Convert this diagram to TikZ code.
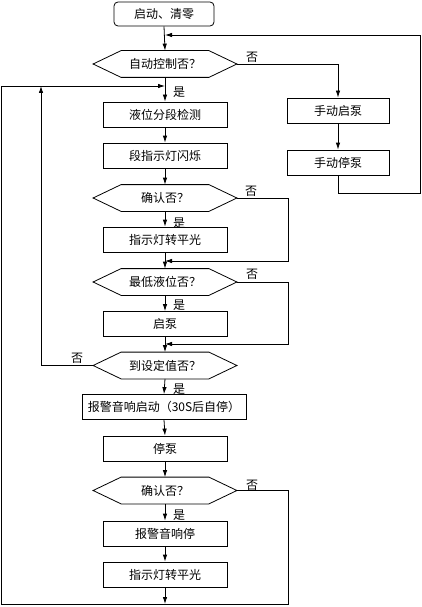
\documentclass[tikz,border=0pt]{standalone}
\usepackage{fontspec}
\setmainfont{Noto Sans CJK SC}
\usetikzlibrary{arrows.meta,calc}
\begin{document}
\begin{tikzpicture}[x=1pt,y=-1pt,line width=0.8pt,
  font=\fontsize{12}{14}\selectfont,
  arr/.style={-{Latex[length=7pt,width=4.5pt]}},
  box/.style={draw,rectangle,minimum width=124pt,minimum height=25pt,inner sep=0pt},
  rbox/.style={draw,rectangle,rounded corners=4pt,minimum width=100pt,minimum height=24pt,inner sep=0pt},
  hexn/.style={rectangle,minimum width=143pt,minimum height=26pt,inner sep=0pt},
  lbl/.style={inner sep=0pt}]
\useasboundingbox (0,0) rectangle (422,607);
% nodes
\node[rbox] (s) at (164,14) {启动、清零};
\node[hexn] (d1) at (165,64) {自动控制否？};
\node[box] (b1) at (165,114.5) {液位分段检测};
\node[box] (b2) at (165,155.5) {段指示灯闪烁};
\node[hexn] (d2) at (165,198) {确认否？};
\node[box] (b3) at (165,239.5) {指示灯转平光};
\node[hexn] (d3) at (165,282) {最低液位否？};
\node[box] (b4) at (165,324) {启泵};
\node[hexn] (d4) at (165,365.5) {到设定值否？};
\node[box,minimum width=164pt] (b5) at (164,407) {报警音响启动（30S后自停）};
\node[box] (b6) at (165,448.5) {停泵};
\node[hexn] (d5) at (165,490.5) {确认否？};
\node[box] (b7) at (165,533.5) {报警音响停};
\node[box] (b8) at (165,574.5) {指示灯转平光};
\node[box,minimum width=102pt] (m1) at (338,110.5) {手动启泵};
\node[box,minimum width=102pt] (m2) at (338,162.5) {手动停泵};
% hexagon outlines
\foreach \d in {d1,d2,d3,d4,d5}
  \draw (\d.west) -- ([xshift=28pt]\d.north west) -- ([xshift=-28pt]\d.north east)
        -- (\d.east) -- ([xshift=-28pt]\d.south east) -- ([xshift=28pt]\d.south west) -- cycle;
% junction coordinates
\coordinate (j0) at (165,35);
\coordinate (j1) at (165,86);
\coordinate (j2) at (165,261);
\coordinate (j3) at (165,344);
\coordinate (jb) at (165,604);
\coordinate (r0) at (420,193);
\coordinate (r1) at (288,261);
\coordinate (r2) at (288,344);
\coordinate (r3) at (288,604);
\coordinate (l0) at (1,604);
\coordinate (l1) at (1,86);
\coordinate (l2) at (41,365.5);
\coordinate (l3) at (41,86);
% main flow
\draw[arr] (s.south) -- (d1.north);
\draw[arr] (d1.south) -- (b1.north);
\draw[arr] (b1.south) -- (b2.north);
\draw[arr] (b2.south) -- (d2.north);
\draw[arr] (d2.south) -- (b3.north);
\draw[arr] (b3.south) -- (d3.north);
\draw[arr] (d3.south) -- (b4.north);
\draw[arr] (b4.south) -- (d4.north);
\draw[arr] (d4.south) -- (b5.north);
\draw[arr] (b5.south) -- (b6.north);
\draw[arr] (b6.south) -- (d5.north);
\draw[arr] (d5.south) -- (b7.north);
\draw[arr] (b7.south) -- (b8.north);
\draw[arr] (b8.south) -- (jb);
% manual branch
\draw[arr] (d1.east) -| (m1.north);
\draw[arr] (m1.south) -- (m2.north);
\draw[arr] (m2.south) |- (r0) |- (j0);
% no-branches on right
\draw[arr] (d2.east) -| (r1) -- (j2);
\draw[arr] (d3.east) -| (r2) -- (j3);
\draw[arr] (d5.east) -| (r3) -- (l0) -- (l1) -- (j1);
% left loop
\draw[arr] (d4.west) -- (l2) -- (l3);
% labels
\node[lbl] (n1) at (252,57) {否};
\node[lbl] (y1) at (179,92) {是};
\node[lbl] (n2) at (251,191) {否};
\node[lbl] (y2) at (179,223) {是};
\node[lbl] (n3) at (252,274) {否};
\node[lbl] (y3) at (179,305) {是};
\node[lbl] (n4) at (77,358) {否};
\node[lbl] (y4) at (179,389) {是};
\node[lbl] (n5) at (252,485) {否};
\node[lbl] (y5) at (179,515) {是};
\end{tikzpicture}
\end{document}
